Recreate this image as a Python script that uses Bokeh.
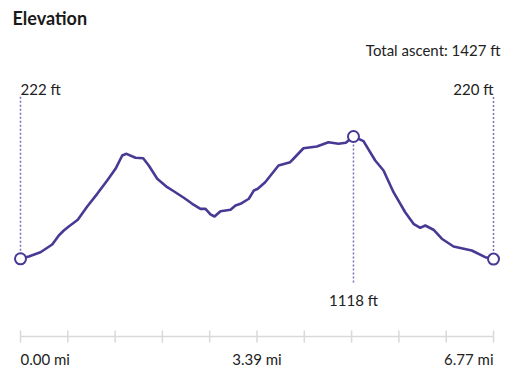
from bokeh.plotting import figure
from bokeh.models import Range1d
from bokeh.core.properties import value
from bokeh.embed import file_html
from bokeh.resources import INLINE
import numpy as np

# ---- data ----
distance_mi = [0.000, 0.119, 0.286, 0.454, 0.548, 0.620, 0.691, 0.820, 0.955, 1.098,
               1.241, 1.360, 1.456, 1.517, 1.646, 1.756, 1.836, 1.957, 2.100, 2.194,
               2.337, 2.458, 2.576, 2.648, 2.719, 2.777, 2.863, 3.006, 3.077, 3.149,
               3.268, 3.339, 3.396, 3.502, 3.693, 3.860, 3.907, 4.050, 4.241, 4.408,
               4.552, 4.656, 4.766, 4.909, 5.077, 5.196, 5.339, 5.506, 5.625, 5.721,
               5.793, 5.911, 6.030, 6.198, 6.459, 6.651, 6.770]
elevation_ft = [222, 239, 270, 327, 393, 429, 459, 508, 605, 698,
                796, 881, 979, 991, 962, 959, 906, 808, 747, 717,
                669, 625, 588, 588, 547, 532, 571, 581, 612, 625,
                662, 722, 735, 783, 906, 930, 955, 1032, 1045, 1076,
                1065, 1072, 1118, 1084, 942, 869, 710, 563, 478, 449,
                466, 435, 369, 312, 283, 234, 220]
total_ascent_ft = 1427
tick_labels = ["0.00 mi", "3.39 mi", "6.77 mi"]
title_text = "Elevation"

# ---- layout (pixels) ----
W, H = 516, 378
X_LEFT_PX, X_RIGHT_PX = 20, 493
Y_START_PX, Y_PEAK_PX = 258.3, 136
LINE_COLOR = "#473a94"
DOT_COLOR = "#7a70b8"
AXIS_COLOR = "#d9d9d9"
FONT = value("Lato")
LABEL_SIZE = "15px"

d = np.array(distance_mi)
e = np.array(elevation_ft)
dmax = d[-1]
ipk = int(np.argmax(e))
ppm = (X_RIGHT_PX - X_LEFT_PX) / dmax
ppf = (Y_START_PX - Y_PEAK_PX) / (e[ipk] - e[0])
x_start = -X_LEFT_PX / ppm
x_end = dmax + (W - X_RIGHT_PX) / ppm
y_end = e[ipk] + Y_PEAK_PX / ppf
y_start = e[0] - (H - Y_START_PX) / ppf


def fx(px):
    return x_start + px / ppm


def fy(py):
    return y_end - py / ppf


p = figure(width=W, height=H, output_backend="svg", toolbar_location=None,
           x_axis_location=None, y_axis_location=None, min_border=0,
           x_range=Range1d(x_start, x_end), y_range=Range1d(y_start, y_end))
p.outline_line_color = None
p.xgrid.visible = False
p.ygrid.visible = False
p.background_fill_color = "white"
p.border_fill_color = "white"

# distance axis
ticks = np.linspace(0, dmax, 11)
p.segment(x0=[0], y0=[fy(336)], x1=[dmax], y1=[fy(336)], line_color=AXIS_COLOR, line_width=1.5)
p.segment(x0=ticks, y0=[fy(330)] * 11, x1=ticks, y1=[fy(342)] * 11, line_color=AXIS_COLOR, line_width=1.5)
tick_x = [0, dmax / 2, dmax]
for tx, lab, al in zip(tick_x, tick_labels, ["left", "center", "right"]):
    p.text(x=[tx], y=[fy(358)], text=[lab], text_align=al, text_baseline="middle",
           text_font=FONT, text_font_size=LABEL_SIZE, text_color="#222222")

# dotted markers
p.segment(x0=[0, dmax, d[ipk]], y0=[e[0], e[-1], e[ipk]],
          x1=[0, dmax, d[ipk]], y1=[fy(95), fy(95), fy(284)],
          line_color=DOT_COLOR, line_width=1.5, line_dash="2 2")

# profile
p.line(d, e, line_color=LINE_COLOR, line_width=2.6, line_join="round")
p.scatter([d[0], d[ipk], d[-1]], [e[0], e[ipk], e[-1]], size=11, fill_color="white",
          line_color=LINE_COLOR, line_width=2)

# labels
p.text(x=[0], y=[fy(88)], text=[f"{elevation_ft[0]} ft"], text_align="left", text_baseline="middle",
       text_font=FONT, text_font_size=LABEL_SIZE, text_color="#222222")
p.text(x=[dmax], y=[fy(88)], text=[f"{elevation_ft[-1]} ft"], text_align="right", text_baseline="middle",
       text_font=FONT, text_font_size=LABEL_SIZE, text_color="#222222")
p.text(x=[d[ipk]], y=[fy(299)], text=[f"{elevation_ft[ipk]} ft"], text_align="center", text_baseline="middle",
       text_font=FONT, text_font_size=LABEL_SIZE, text_color="#222222")
p.text(x=[fx(500)], y=[fy(49)], text=[f"Total ascent: {total_ascent_ft} ft"], text_align="right",
       text_baseline="middle", text_font=FONT, text_font_size=LABEL_SIZE, text_color="#222222")
p.text(x=[fx(12)], y=[fy(17)], text=[title_text], text_align="left", text_baseline="middle",
       text_font=FONT, text_font_size="18px", text_font_style="bold", text_color="#1a1a1a")

open("out.html", "w").write(file_html(p, INLINE))
